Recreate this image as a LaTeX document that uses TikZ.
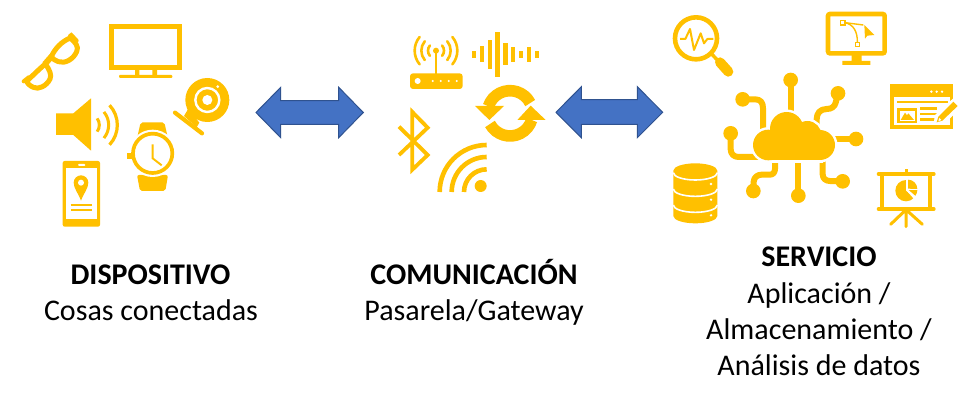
\documentclass[tikz,border=0pt]{standalone}
\usepackage{fontspec}
\setmainfont{Carlito}
\definecolor{ico}{HTML}{FFC000}
\definecolor{blu}{HTML}{4472C4}
\definecolor{blud}{HTML}{2F528F}
\newcommand{\cloudparts}[1]{%
 \path[#1] (145,195) circle (46);
 \path[#1] (300,195) circle (45);
 \path[#1] (200,146) circle (50);
 \path[#1] (262,165) circle (42);
 \path[#1] (145,170) rectangle (300,241);
}
\tikzset{
 ln/.style={draw=ico,line width=#1,fill=none},
 ln/.default=3pt,
 lbl/.style={font=\fontsize{30}{34}\selectfont,text=black,inner sep=0pt,anchor=base},
 dblarrow/.style={fill=blu,draw=blud,line width=1pt,line join=miter},
 z1/.style={shift={(10,10)},scale=1/3},
 z2/.style={shift={(380,20)},scale=1/3},
 z3/.style={shift={(660,5)},scale=1/3},
 z4/.style={shift={(720,80)},scale=1/3},
 z5/.style={shift={(810,5)},scale=1/3},
 z8/.style={shift={(885,80)},scale=1/3},
 z9/.style={shift={(870,165)},scale=1/3},
}
\begin{document}
\begin{tikzpicture}[x=1pt,y=1pt,yscale=-1]
\useasboundingbox (0,0) rectangle (960,401);
\fill[white] (0,0) rectangle (960,401);
% texts
\node[lbl] (t1a) at (150.5,284) {\textbf{DISPOSITIVO}};
\node[lbl] (t1b) at (151,320) {Cosas conectadas};
\node[lbl] (t2a) at (474,284) {\textbf{COMUNICACIÓN}};
\node[lbl] (t2b) at (474,320) {Pasarela/Gateway};
\node[lbl] (t3a) at (819,266) {\textbf{SERVICIO}};
\node[lbl] (t3b) at (819,303) {Aplicación /};
\node[lbl] (t3c) at (819,339) {Almacenamiento /};
\node[lbl] (t3d) at (819,375) {Análisis de datos};
% blue arrows
\draw[dblarrow] (256,112.5)--(280.7,87.3)--(280.7,100.7)--(338.7,100.7)--(338.7,87.3)--(363.3,112.5)--(338.7,137.7)--(338.7,124.3)--(280.7,124.3)--(280.7,137.7)--cycle;
\draw[dblarrow] (556,112.3)--(581.3,86.7)--(581.3,99.7)--(637.3,99.7)--(637.3,86.7)--(662.7,112.3)--(637.3,137.7)--(637.3,124.3)--(581.3,124.3)--(581.3,137.7)--cycle;
% ---------- devices
\begin{scope}[z1]
 % glasses
 \draw[ln=5pt,line join=round] (50,214) .. controls (70,195) and (90,175) .. (106,162) .. controls (118,178) and (126,195) .. (120,207) .. controls (110,228) and (85,240) .. (70,232) .. controls (60,228) and (52,220) .. (50,214) -- cycle;
 \draw[ln=5pt,line join=round] (124,140) .. controls (135,115) and (155,95) .. (180,84) .. controls (195,95) and (208,110) .. (200,125) .. controls (190,148) and (165,162) .. (145,155) .. controls (135,152) and (128,146) .. (124,140) -- cycle;
 \draw[ln=6pt] (104,163) -- (126,138);
 \draw[ln=4pt,line cap=round] (41,214) -- (56,202);
 \draw[ln=4pt,line cap=round] (180,78) -- (184,75) -- (200,92);
 % TV
 \draw[ln=4.6pt] (305,49) rectangle (509,173);
 \fill[ico] (375,178) rectangle (388,197) (427,178) rectangle (441,197);
 \fill[ico,rounded corners=1pt] (327,195) rectangle (487,204);
 % speaker
 \fill[ico] (138,310)--(190,310)--(243,265)--(243,422)--(190,375)--(138,375)--cycle;
 \draw[ln=3pt] (235,345) ++(-37:33) arc (-37:37:33);
 \draw[ln=3pt] (235,345) ++(-40:61) arc (-40:40:61);
 \draw[ln=3.2pt] (235,345) ++(-43:87) arc (-43:43:87);
 % watch
 \fill[ico,rounded corners=2pt] (392,337)--(463,337)--(474,385)--(381,385)--cycle;
 \fill[ico,rounded corners=2pt] (381,495)--(474,495)--(466,543)--(390,543)--cycle;
 \fill[white] (428,430) circle (71);
 \draw[ln=3.7pt] (428,430) circle (59);
 \fill[ico] (352,428) rectangle (367,447);
 \draw[ln=1.9pt,line join=miter] (428,403)--(428,445)--(455,466);
 % webcam
 \fill[ico] (535,296)--(568,338)--(560,352)--(522,318)--cycle;
 \draw[ln=4.2pt,line cap=round] (495,308)--(576,370);
 \fill[ico] (592,270) circle (66);
 \draw[draw=white,line width=2.4pt] (592,270) circle (36);
 \fill[white] (592,270) circle (15);
 \fill[white] (623,230) circle (4.5);
 % phone
 \fill[ico,rounded corners=2pt] (158,453) rectangle (270,650);
 \fill[white] (167,475) rectangle (262,628);
 \fill[white,rounded corners=1pt] (204,462) rectangle (226,468);
 \fill[ico] (213,572) .. controls (205,550) and (191,535) .. (191,518) arc (180:360:22) .. controls (235,535) and (221,550) .. (213,572) -- cycle;
 \fill[white] (213,518) circle (9);
 \draw[ln=1.7pt] (182,585)--(247,585) (182,600)--(247,600);
\end{scope}
% ---------- communication
\begin{scope}[z2]
 % router
 \fill[ico,rounded corners=3pt] (90,160) rectangle (248,207);
 \fill[white] (113,183) circle (9);
 \foreach \q in {158,182,206,230} \fill[white] (\q,183) circle (3.5);
 \draw[ln=2.4pt] (168,92)--(168,162);
 \fill[ico] (168,92) circle (9);
 \foreach \r in {24,44,64} {
  \draw[ln=2.6pt,line cap=round] (168,92) ++(-40:\r) arc (-40:40:\r);
  \draw[ln=2.6pt,line cap=round] (168,92) ++(140:\r) arc (140:220:\r);
 }
 % sound wave
 \foreach \q/\a/\b in {282/92/115,305/78/127,329/60/147,352/37/170,376/70/135,399/82/125,423/92/115,446/80/125,470/92/115}
  \fill[ico] (\q-6.5,\a) rectangle (\q+6.5,\b);
 % sync
 \draw[ln=11.6pt] (390,280) ++(-27:68) arc (-27:-162:68);
 \fill[ico] (285,258)--(372,258)--(328,300)--cycle;
 \draw[ln=11.6pt] (390,280) ++(152:68) arc (152:17:68);
 \fill[ico] (412,300)--(497,300)--(452,257)--cycle;
 % bluetooth
 \draw[ln=3.8pt,line join=miter,miter limit=5] (57,320)--(143,405)--(97,449)--(97,276)--(143,323)--(57,405);
 % wifi
 \fill[ico] (302,498) circle (18);
 \foreach \r in {68,105,141} \draw[ln=4.6pt] (320,516) ++(180:\r) arc (180:270:\r);
\end{scope}
% ---------- services
\begin{scope}[z3]
 % magnifier
 \draw[ln=4.6pt] (108,100) circle (63);
 \draw[ln=3.5pt] (150,142)--(175,168);
 \draw[ln=10pt,line cap=round] (180,172)--(205,200);
 \draw[ln=2pt,line join=round] (60,102)--(76,102)--(90,72)--(102,135)--(122,85)--(132,115)--(142,102)--(160,102);
 % database
 \fill[ico] (40,497) arc (180:360:66 and 22) -- (172,633) arc (0:180:66 and 22) -- cycle;
 \draw[white,line width=1.6pt] (40,503) arc (180:0:66 and 22);
 \draw[white,line width=1.6pt] (40,552) arc (180:0:66 and 22);
 \draw[white,line width=1.6pt] (40,600) arc (180:0:66 and 22);
 \fill[white] (153,537) circle (4) (153,584) circle (4) (153,631) circle (4);
\end{scope}
\begin{scope}[z4]
 \tikzset{cn/.style={ln=6pt,line join=round}}
 \fill[ico] (212,0) circle (22) (68,58) circle (22) (32,160) circle (22) (354,40) circle (22) (408,177) circle (22) (368,304) circle (22) (235,347) circle (22) (100,333) circle (22);
 \draw[cn] (212,0)--(212,120);
 \draw[cn] (68,58)--(105,58) .. controls (122,58) and (129,68) .. (129,85) -- (129,160);
 \draw[cn] (32,160)--(32,208) .. controls (32,222) and (42,231) .. (56,231) -- (130,231);
 \draw[cn] (354,40)--(347,68) .. controls (344,80) and (335,87) .. (320,87) .. controls (300,87) and (290,100) .. (290,118) -- (290,150);
 \draw[cn] (408,177)--(300,177);
 \draw[cn] (308,210)--(308,283) .. controls (308,296) and (318,303) .. (330,303) -- (368,304);
 \draw[cn] (235,347)--(235,210);
 \draw[cn] (100,333)--(101,305) .. controls (102,292) and (112,284) .. (125,284) -- (150,284) .. controls (160,284) and (165,276) .. (165,266) -- (165,210);
 % cloud with halo
 \cloudparts{draw=white,line width=5pt,fill=white}
 \cloudparts{fill=ico}
\end{scope}
\begin{scope}[z5]
 % monitor with vector curve
 \draw[ln=4.6pt,rounded corners=2pt] (54,27) rectangle (224,145);
 \fill[ico] (125,150)--(155,150)--(155,168)--(181,168)--(181,180)--(97,180)--(97,168)--(125,168)--cycle;
 \draw[ln=1.4pt] (92,47) rectangle (105,60);
 \draw[ln=1.4pt] (136,112) rectangle (149,125);
 \draw[ln=1.4pt] (105,53)--(160,60);
 \draw[ln=1.4pt] (105,53) .. controls (130,58) and (143,80) .. (142,112);
 \fill[ico] (163,60)--(193,90)--(172,92)--(165,101)--cycle;
\end{scope}
\begin{scope}[z8]
 % browser + pencil
 \fill[ico] (14,13) rectangle (205,147);
 \fill[white] (28,52) rectangle (195,135);
 \fill[white] (139,35) circle (4) (155,35) circle (4) (171,35) circle (4);
 \draw[ln=2pt] (37,65)--(188,65);
 \fill[ico] (37,84) rectangle (97,130);
 \fill[white] (45,92) rectangle (90,122);
 \fill[ico] (47,120)--(60,98)--(66,106)--(70,100)--(87,120)--cycle;
 \draw[ln=2.4pt] (105,85)--(155,85) (105,102)--(155,102) (105,118)--(155,118);
 \fill[white] (145,135)--(150,105)--(205,55)--(230,80)--(175,135)--cycle;
 \fill[ico] (155,127)--(160,110)--(205,65)--(218,78)--(172,122)--cycle;
 \fill[white] (160,124)--(163,114)--(169,120)--cycle;
\end{scope}
\begin{scope}[z9]
 % presentation board
 \draw[ln=3.2pt,line cap=round] (25,27)--(192,27) (25,132)--(192,132);
 \draw[ln=3.4pt] (36,27) rectangle (180,132);
 \draw[ln=3pt] (108,13)--(108,27);
 \draw[ln=3pt,line cap=round] (108,134)--(62,178) (108,134)--(157,178) (108,134)--(108,185);
 \fill[ico] (108,77) -- (108,45) arc (-90:-270:32) arc (90:40:32) -- cycle;
 \fill[white] (108,75) -- (108,40) -- (148,40) -- (148,85) -- (133,103) -- cycle;
 \fill[ico] (114,71) -- (114,44) arc (-90:0:28) -- cycle;
 \fill[ico] (116,75) -- (142,75) arc (0:38:28) -- cycle;
\end{scope}
\end{tikzpicture}
\end{document}
